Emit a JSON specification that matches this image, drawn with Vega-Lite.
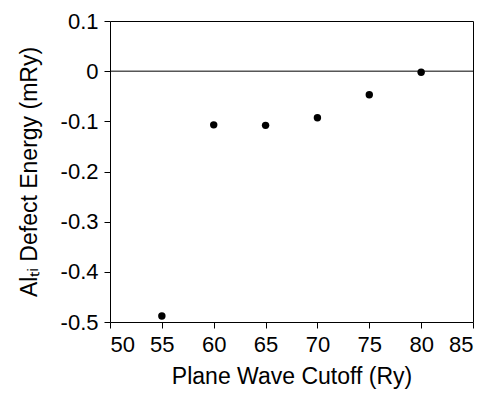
{
  "$schema": "https://vega.github.io/schema/vega-lite/v6.json",
  "width": 363,
  "height": 301,
  "autosize": {"type": "none"},
  "padding": {"left": 110, "top": 21, "right": 16, "bottom": 73},
  "background": "white",
  "config": {
    "view": {"stroke": "black", "strokeWidth": 1},
    "font": "Liberation Sans",
    "axis": {
      "grid": false,
      "domain": false,
      "tickColor": "black",
      "tickSize": 6,
      "labelColor": "black",
      "titleColor": "black",
      "labelFont": "Liberation Sans",
      "titleFont": "Liberation Sans",
      "labelFontSize": 22,
      "titleFontSize": 23,
      "titleFontWeight": "normal"
    }
  },
  "data": {
    "values": [
      {"cutoff": 55, "energy": -0.488},
      {"cutoff": 60, "energy": -0.107},
      {"cutoff": 65, "energy": -0.108},
      {"cutoff": 70, "energy": -0.093},
      {"cutoff": 75, "energy": -0.047},
      {"cutoff": 80, "energy": -0.002}
    ]
  },
  "layer": [
    {
      "mark": {"type": "rule", "color": "black", "strokeWidth": 1},
      "data": {"values": [{"zero": 0}]},
      "encoding": {"y": {"field": "zero", "type": "quantitative"}}
    },
    {
      "mark": {"type": "point", "filled": true, "color": "black", "opacity": 1, "size": 55},
      "encoding": {
        "x": {
          "field": "cutoff",
          "type": "quantitative",
          "scale": {"domain": [50, 85], "nice": false, "zero": false},
          "axis": {"values": [50, 55, 60, 65, 70, 75, 80, 85], "title": "Plane Wave Cutoff (Ry)", "labelPadding": 6, "titlePadding": 10}
        },
        "y": {
          "field": "energy",
          "type": "quantitative",
          "scale": {"domain": [-0.5, 0.1], "nice": false, "zero": false},
          "axis": {"values": [-0.5, -0.4, -0.3, -0.2, -0.1, 0, 0.1], "labelExpr": "datum.value == 0 ? '0' : replace(format(datum.value, '.1f'), '−', '-')", "title": "Alₜᵢ Defect Energy (mRy)", "labelPadding": 6, "titlePadding": 19}
        }
      }
    }
  ]
}
